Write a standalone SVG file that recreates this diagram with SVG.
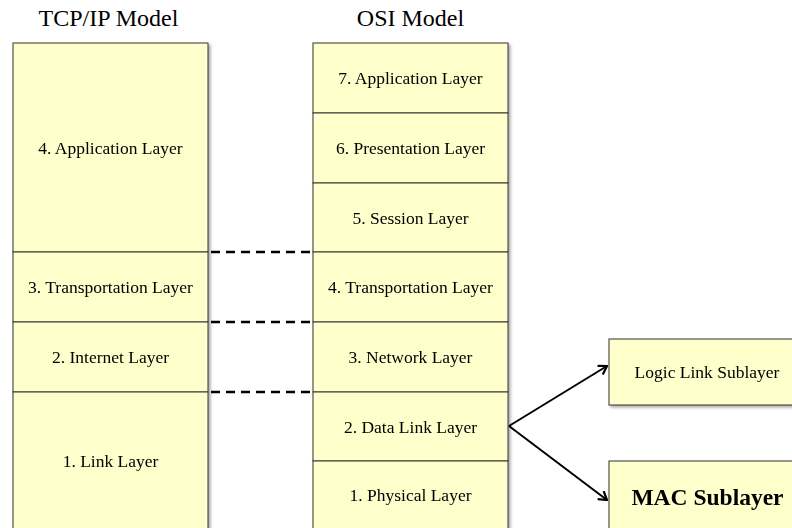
<svg xmlns="http://www.w3.org/2000/svg" width="792" height="528" viewBox="0 0 792 528">
<defs>
<filter id="sh" x="-10%" y="-10%" width="130%" height="130%">
<feGaussianBlur in="SourceAlpha" stdDeviation="1.5"/>
<feOffset dx="1.5" dy="1.5" result="b"/>
<feComponentTransfer><feFuncA type="linear" slope="0.35"/></feComponentTransfer>
<feMerge><feMergeNode/><feMergeNode in="SourceGraphic"/></feMerge>
</filter>
<marker id="ah" viewBox="0 0 12 12" refX="11" refY="6" markerWidth="12" markerHeight="12" markerUnits="userSpaceOnUse" orient="auto">
<path d="M3,1 L11,6 L3,11" fill="none" stroke="#000" stroke-width="2.2"/>
</marker>
<style>
.box{fill:#FFFFCC;stroke:#333;stroke-width:1}
.t{font-family:"Liberation Serif","Times New Roman",serif;font-size:17.5px;fill:#000;text-anchor:middle}
.title{font-family:"Liberation Serif","Times New Roman",serif;font-size:24px;fill:#000;text-anchor:middle}
.dash{stroke:#000;stroke-width:2.5;stroke-dasharray:9,6;fill:none}
.arr{stroke:#000;stroke-width:2;fill:none}
</style>
</defs>
<rect width="792" height="528" fill="#fff"/>
<text class="title" x="108.5" y="25.5">TCP/IP Model</text>
<text class="title" x="410.5" y="25.5">OSI Model</text>
<g id="tcp" filter="url(#sh)">
<g id="tcp-app"><rect class="box" x="13" y="43" width="195" height="209"/><text class="t" x="110.5" y="153.5">4. Application Layer</text></g>
<g id="tcp-transport"><rect class="box" x="13" y="252" width="195" height="70"/><text class="t" x="110.5" y="293">3. Transportation Layer</text></g>
<g id="tcp-internet"><rect class="box" x="13" y="322" width="195" height="70"/><text class="t" x="110.5" y="363">2. Internet Layer</text></g>
<g id="tcp-link"><rect class="box" x="13" y="392" width="195" height="145"/><text class="t" x="110.5" y="467">1. Link Layer</text></g>
</g>
<g id="osi" filter="url(#sh)">
<g id="osi-7"><rect class="box" x="313" y="43" width="195" height="70"/><text class="t" x="410.5" y="84">7. Application Layer</text></g>
<g id="osi-6"><rect class="box" x="313" y="113" width="195" height="70"/><text class="t" x="410.5" y="154">6. Presentation Layer</text></g>
<g id="osi-5"><rect class="box" x="313" y="183" width="195" height="69"/><text class="t" x="410.5" y="223.5">5. Session Layer</text></g>
<g id="osi-4"><rect class="box" x="313" y="252" width="195" height="70"/><text class="t" x="410.5" y="293">4. Transportation Layer</text></g>
<g id="osi-3"><rect class="box" x="313" y="322" width="195" height="70"/><text class="t" x="410.5" y="363">3. Network Layer</text></g>
<g id="osi-2"><rect class="box" x="313" y="392" width="195" height="69"/><text class="t" x="410.5" y="432.5">2. Data Link Layer</text></g>
<g id="osi-1"><rect class="box" x="313" y="461" width="195" height="75"/><text class="t" x="410.5" y="500.5">1. Physical Layer</text></g>
</g>
<g id="llc" filter="url(#sh)"><rect class="box" x="609" y="339" width="196" height="66"/><text class="t" x="707" y="378">Logic Link Sublayer</text></g>
<g id="mac" filter="url(#sh)"><rect class="box" x="609" y="461" width="196" height="80"/><text class="t" x="707.5" y="505" style="font-size:23.5px;font-weight:bold">MAC Sublayer</text></g>
<g id="connectors">
<line class="dash" x1="211" y1="252" x2="311" y2="252"/>
<line class="dash" x1="211" y1="322" x2="311" y2="322"/>
<line class="dash" x1="211" y1="392" x2="311" y2="392"/>
<line class="arr" x1="509" y1="426" x2="607" y2="366" marker-end="url(#ah)"/>
<line class="arr" x1="509" y1="426" x2="607" y2="500" marker-end="url(#ah)"/>
</g>
</svg>
